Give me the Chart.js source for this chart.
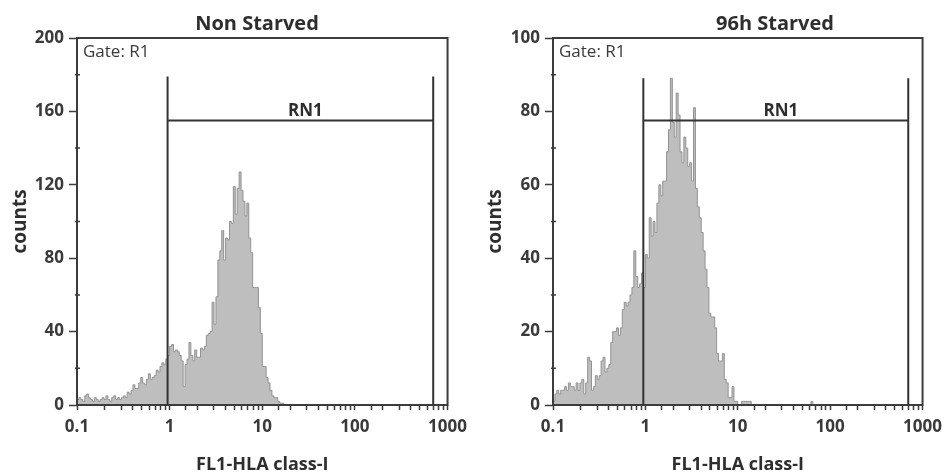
<!DOCTYPE html>
<html>
<head>
<meta charset="utf-8">
<script src="https://cdn.jsdelivr.net/npm/chart.js@4.4.1/dist/chart.umd.min.js"></script>
<style>
  body { margin: 0; background: #fff; }
  #wrap { position: relative; width: 949px; height: 474px; }
  canvas { position: absolute; top: 0; }
</style>
</head>
<body>
<div id="wrap">
  <canvas id="left" width="474" height="474" style="left:0"></canvas>
  <canvas id="right" width="474" height="474" style="left:475px"></canvas>
</div>
<script>
// histogram data, counts per log bin starting at 0.1 (48 bins per decade)
const panelTitles = ["Non Starved", "96h Starved"];
const xTickLabels = [0.1, 1, 10, 100, 1000];
const yTicksNonStarved = [0, 40, 80, 120, 160, 200];
const yTicksStarved = [0, 20, 40, 60, 80, 100];
const binsPerDecade = 48;

const nonStarvedCounts = [
    3, 4, 3, 2, 5, 6, 4, 3, 2, 4,
    3, 2, 3, 4, 3, 5, 3, 2, 4, 5,
    3, 4, 3, 4, 5, 4, 7, 6, 8, 11,
    9, 9, 12, 15, 12, 11, 14, 17, 14, 15,
    16, 19, 18, 21, 23, 22, 25, 27, 32, 33,
    29, 30, 29, 27, 24, 10, 22, 25, 34, 27,
    24, 30, 26, 26, 31, 30, 32, 38, 39, 40,
    56, 44, 59, 79, 84, 95, 79, 91, 90, 100,
    99, 119, 104, 118, 127, 117, 111, 103, 110, 91,
    83, 64, 64, 64, 53, 39, 21, 21, 15, 12,
    8, 5, 4, 4, 2, 1, 1
];

const starvedCounts = [
    1, 3, 4, 3, 4, 4, 5, 4, 6, 5,
    5, 4, 6, 4, 6, 7, 3, 6, 13, 12,
    4, 5, 8, 7, 8, 12, 13, 9, 10, 11,
    17, 20, 20, 21, 19, 21, 26, 28, 27, 28,
    30, 32, 42, 35, 32, 33, 36, 32, 41, 40,
    51, 46, 50, 47, 55, 60, 57, 61, 61, 69,
    75, 89, 77, 73, 85, 79, 69, 66, 73, 70,
    65, 66, 61, 81, 59, 54, 51, 47, 42, 37,
    32, 25, 24, 24, 21, 14, 12, 12, 14, 7,
    6, 2, 2, 5, 1, 1, 0, 0, 1, 1,
    1, 1, 1, 0, 0, 0, 0, 0, 0, 0,
    0, 0, 0, 0, 0, 0, 0, 0, 0, 0,
    0, 0, 0, 0, 0, 0, 0, 0, 0, 0,
    0, 0, 0, 0, 1
];

// RN1 marker: [left, right] on x, then height of the uprights and of the bar
const gateRange = [0.95, 700];
const gateTops = [179, 89];
const gateBars = [155, 77.5];

const fontFamily = "'Open Sans', 'Liberation Sans', sans-serif";
const axisColor = '#3c3c3c';

function histogramPoints(counts)
{
    let pts = [];
    for(let i=0; i<counts.length; i++)
    {
        pts.push({x: 0.1 * Math.pow(10, i / binsPerDecade), y: counts[i]});
    }
    pts.push({x: 0.1 * Math.pow(10, counts.length / binsPerDecade), y: 0});
    return pts;
}

const markerPlugin = {
    id: 'marker',
    afterDraw(chart, args, opts)
    {
        const ctx = chart.ctx;
        const a = chart.chartArea;
        const xs = chart.scales.x;
        const ys = chart.scales.y;
        ctx.save();

        // minor ticks on y, halfway between labelled ones
        ctx.strokeStyle = axisColor;
        ctx.lineWidth = 1.5;
        const yt = opts.yTicks;
        ctx.beginPath();
        for(let i=0; i<yt.length-1; i++)
        {
            const py = ys.getPixelForValue((yt[i] + yt[i+1]) / 2);
            ctx.moveTo(a.left - 2, py);
            ctx.lineTo(a.left + 3, py);
        }
        ctx.stroke();

        // plot frame
        ctx.lineWidth = 2;
        ctx.strokeRect(a.left, a.top, a.right - a.left, a.bottom - a.top);

        // gate
        const gx1 = xs.getPixelForValue(gateRange[0]);
        const gx2 = xs.getPixelForValue(gateRange[1]);
        const base = ys.getPixelForValue(0);
        const top = ys.getPixelForValue(opts.gateTop);
        const bar = ys.getPixelForValue(opts.gateBar);
        ctx.strokeStyle = '#333';
        ctx.lineWidth = 2;
        ctx.beginPath();
        ctx.moveTo(gx1, base); ctx.lineTo(gx1, top);
        ctx.moveTo(gx2, base); ctx.lineTo(gx2, top);
        ctx.moveTo(gx1, bar); ctx.lineTo(gx2, bar);
        ctx.stroke();

        ctx.fillStyle = '#2e2e2e';
        ctx.font = 'bold 17px ' + fontFamily;
        ctx.textAlign = 'center';
        ctx.textBaseline = 'bottom';
        ctx.fillText('RN1', (gx1 + gx2) / 2 + 5, bar - 1);

        ctx.fillStyle = '#3a3a3a';
        ctx.font = '17px ' + fontFamily;
        ctx.textAlign = 'left';
        ctx.textBaseline = 'middle';
        ctx.fillText('Gate: R1', a.left + 6, 52);

        ctx.fillStyle = '#2e2e2e';
        ctx.font = 'bold 20px ' + fontFamily;
        ctx.textAlign = 'center';
        ctx.fillText(opts.title, opts.titleX, 24);
        ctx.restore();
    }
};

function drawPanel(canvasId, counts, title, titleX, yTicks, gateTop, gateBar, yWidth)
{
    const ctx = document.getElementById(canvasId).getContext('2d');
    const tickFont = {family: fontFamily, size: 17, weight: 'bold'};

    const config = {
        type: 'line',
        data: {
            datasets: [
                {
                    data: histogramPoints(counts),
                    stepped: 'before',
                    fill: 'origin',
                    backgroundColor: '#bebebe',
                    borderColor: '#939393',
                    borderWidth: 1,
                    pointRadius: 0
                }
            ]
        },
        options: {
            responsive: false,
            animation: false,
            layout: {padding: {top: 38, right: 22, left: 0, bottom: 0}},
            plugins: {
                legend: {display: false},
                tooltip: {enabled: false},
                marker: {title: title, titleX: titleX, yTicks: yTicks, gateTop: gateTop, gateBar: gateBar}
            },
            scales: {
                x: {
                    type: 'logarithmic',
                    position: 'bottom',
                    min: 0.1,
                    max: 1000,
                    afterFit: s => { s.height = 69; },
                    grid: {drawOnChartArea: false, tickLength: 5, tickColor: axisColor, tickWidth: 1.5},
                    border: {display: false},
                    ticks: {
                        autoSkip: false,
                        maxRotation: 0,
                        padding: 7,
                        color: '#3a3a3a',
                        font: tickFont,
                        callback: v => {
                            for(let i=0; i<xTickLabels.length; i++)
                            {
                                if(Math.abs(v - xTickLabels[i]) < xTickLabels[i] * 1e-6) return String(xTickLabels[i]);
                            }
                            return '';
                        }
                    },
                    title: {
                        display: true,
                        text: 'FL1-HLA class-I',
                        color: '#2e2e2e',
                        font: {family: fontFamily, size: 18, weight: 'bold', lineHeight: 1},
                        padding: {top: 0, bottom: 0}
                    }
                },
                y: {
                    type: 'linear',
                    min: yTicks[0],
                    max: yTicks[yTicks.length-1],
                    afterFit: s => { s.width = yWidth; },
                    afterBuildTicks: s => { s.ticks = yTicks.map(v => ({value: v})); },
                    grid: {drawOnChartArea: false, tickLength: 8, tickColor: axisColor, tickWidth: 1.5},
                    border: {display: false},
                    ticks: {padding: 5, color: '#3a3a3a', font: tickFont},
                    title: {
                        display: true,
                        text: 'counts',
                        color: '#2e2e2e',
                        font: {family: fontFamily, size: 19, weight: 'bold', lineHeight: 1},
                        padding: {top: 11, bottom: 0}
                    }
                }
            }
        },
        plugins: [markerPlugin]
    };

    return new Chart(ctx, config);
}

drawPanel('left', nonStarvedCounts, panelTitles[0], 257, yTicksNonStarved, gateTops[0], gateBars[0], 77);
drawPanel('right', starvedCounts, panelTitles[1], 300, yTicksStarved, gateTops[1], gateBars[1], 78);
</script>
</body>
</html>
